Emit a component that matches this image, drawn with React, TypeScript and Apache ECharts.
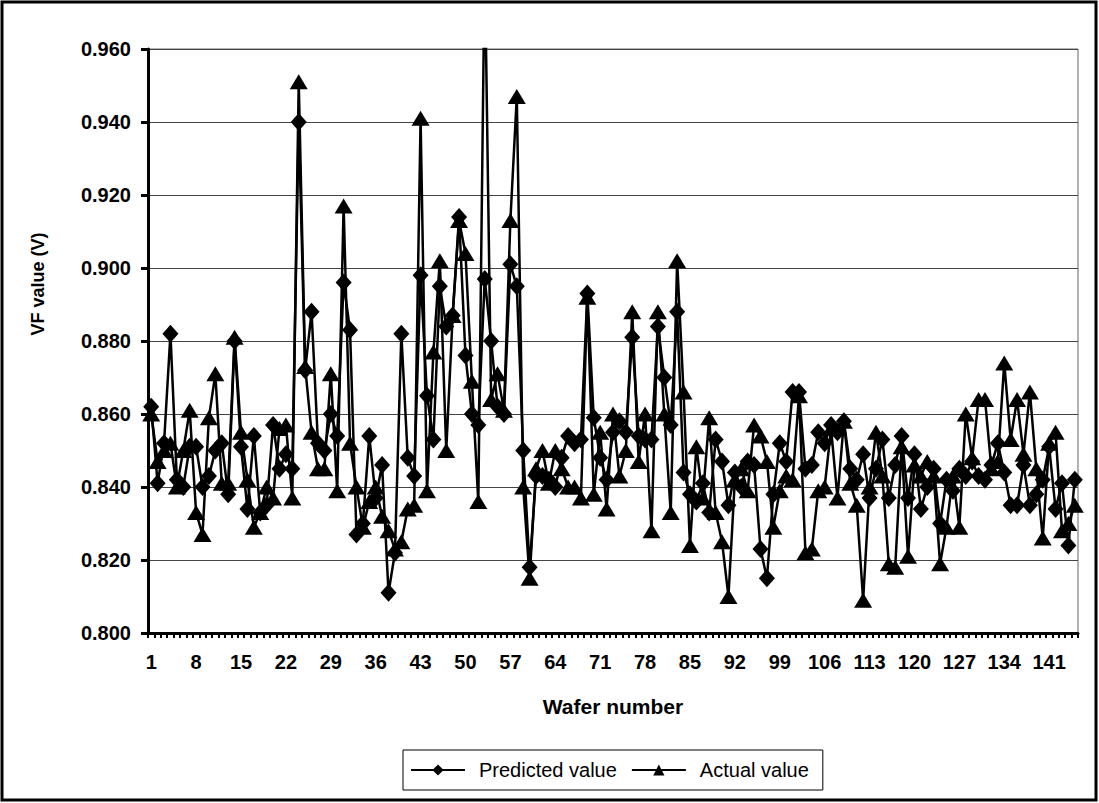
import React, { useEffect, useRef } from "react";
import * as echarts from "echarts";

// Wafer numbers 1..145
const waferNumbers: string[] = Array.from({ length: 145 }, (_, i) => String(i + 1));

// Predicted VF value per wafer (V)
const predicted: number[] = [
  0.862, 0.841, 0.852, 0.882, 0.842, 0.840, 0.851, 0.851, 0.840, 0.843,
  0.850, 0.852, 0.838, 0.880, 0.851, 0.834, 0.854, 0.833, 0.835, 0.857,
  0.845, 0.849, 0.845, 0.940, 0.872, 0.888, 0.852, 0.850, 0.860, 0.854,
  0.896, 0.883, 0.827, 0.830, 0.854, 0.837, 0.846, 0.811, 0.822, 0.882,
  0.848, 0.843, 0.898, 0.865, 0.853, 0.895, 0.884, 0.887, 0.914, 0.876,
  0.860, 0.857, 0.897, 0.880, 0.862, 0.860, 0.901, 0.895, 0.850, 0.818,
  0.843, 0.843, 0.842, 0.840, 0.848, 0.854, 0.852, 0.853, 0.893, 0.859,
  0.848, 0.842, 0.855, 0.858, 0.855, 0.881, 0.854, 0.853, 0.853, 0.884,
  0.870, 0.857, 0.888, 0.844, 0.838, 0.836, 0.841, 0.833, 0.853, 0.847,
  0.835, 0.844, 0.840, 0.847, 0.846, 0.823, 0.815, 0.838, 0.852, 0.847,
  0.866, 0.866, 0.845, 0.846, 0.855, 0.852, 0.857, 0.855, 0.858, 0.845,
  0.842, 0.849, 0.837, 0.845, 0.853, 0.837, 0.846, 0.854, 0.837, 0.849,
  0.834, 0.840, 0.845, 0.830, 0.842, 0.839, 0.845, 0.843, 0.847, 0.843,
  0.842, 0.846, 0.852, 0.844, 0.835, 0.835, 0.846, 0.835, 0.838, 0.842,
  0.851, 0.834, 0.841, 0.824, 0.842,
];

// Actual VF value per wafer (V)
const actual: number[] = [
  0.860, 0.847, 0.850, 0.852, 0.840, 0.850, 0.861, 0.833, 0.827, 0.859,
  0.871, 0.841, 0.841, 0.881, 0.855, 0.842, 0.829, 0.833, 0.840, 0.837,
  0.856, 0.857, 0.837, 0.951, 0.873, 0.855, 0.845, 0.845, 0.871, 0.839,
  0.917, 0.852, 0.840, 0.829, 0.836, 0.840, 0.832, 0.828, 0.823, 0.825,
  0.834, 0.835, 0.941, 0.839, 0.877, 0.902, 0.850, 0.887, 0.913, 0.904,
  0.869, 0.836, 0.985, 0.864, 0.871, 0.861, 0.913, 0.947, 0.840, 0.815,
  0.845, 0.850, 0.841, 0.850, 0.845, 0.840, 0.840, 0.837, 0.892, 0.838,
  0.855, 0.834, 0.860, 0.843, 0.850, 0.888, 0.847, 0.860, 0.828, 0.888,
  0.860, 0.833, 0.902, 0.866, 0.824, 0.851, 0.837, 0.859, 0.833, 0.825,
  0.810, 0.842, 0.845, 0.839, 0.857, 0.854, 0.847, 0.829, 0.839, 0.843,
  0.842, 0.865, 0.822, 0.823, 0.839, 0.840, 0.856, 0.837, 0.858, 0.841,
  0.835, 0.809, 0.840, 0.855, 0.843, 0.819, 0.818, 0.851, 0.821, 0.846,
  0.843, 0.847, 0.843, 0.819, 0.829, 0.843, 0.829, 0.860, 0.848, 0.864,
  0.864, 0.845, 0.847, 0.874, 0.853, 0.864, 0.849, 0.866, 0.845, 0.826,
  0.852, 0.855, 0.828, 0.830, 0.835,
];

const FONT = "Liberation Sans, Arial, sans-serif";

export default function App() {
  const ref = useRef<HTMLDivElement>(null);

  useEffect(() => {
    document.body.style.margin = "0";
    const chart = echarts.init(ref.current!, undefined, { renderer: "svg" });
    chart.setOption({
      animation: false,
      backgroundColor: "#ffffff",
      grid: { left: 148, right: 21, top: 49, bottom: 170, containLabel: false },
      xAxis: {
        type: "category",
        data: waferNumbers,
        boundaryGap: true,
        axisLine: { show: true, lineStyle: { color: "#000", width: 3 } },
        axisTick: {
          show: true,
          interval: 0,
          alignWithLabel: false,
          length: 5,
          lineStyle: { color: "#000", width: 2 },
        },
        axisLabel: {
          interval: 6,
          color: "#000",
          fontFamily: FONT,
          fontWeight: "bold",
          fontSize: 20,
          margin: 19,
        },
        name: "Wafer number",
        nameLocation: "middle",
        nameGap: 63,
        nameTextStyle: { color: "#000", fontFamily: FONT, fontWeight: "bold", fontSize: 21 },
        splitLine: { show: false },
      },
      yAxis: {
        type: "value",
        min: 0.8,
        max: 0.96,
        interval: 0.02,
        axisLine: { show: true, lineStyle: { color: "#000", width: 3 } },
        axisTick: { show: true, length: 7, lineStyle: { color: "#000", width: 3 } },
        axisLabel: {
          color: "#000",
          fontFamily: FONT,
          fontWeight: "bold",
          fontSize: 20,
          margin: 17,
          formatter: (v: number) => v.toFixed(3),
        },
        splitLine: { show: true, lineStyle: { color: "#444", width: 1 } },
      },
      legend: {
        show: true,
        left: 403,
        top: 750,
        itemWidth: 54,
        itemHeight: 14,
        itemGap: 14,
        padding: [10, 14, 10, 7],
        borderColor: "#000",
        borderWidth: 1,
        textStyle: { color: "#000", fontFamily: FONT, fontSize: 20, padding: [0, 0, 0, 9] },
        data: ["Predicted value", "Actual value"],
      },
      graphic: [
        {
          type: "rect",
          shape: { x: 2, y: 2, width: 1094, height: 798 },
          style: { fill: "none", stroke: "#000", lineWidth: 3 },
          silent: true,
        },
        {
          type: "line",
          shape: { x1: 148, y1: 49, x2: 1078, y2: 49 },
          style: { stroke: "#666", lineWidth: 1 },
          silent: true,
        },
        {
          type: "line",
          shape: { x1: 1078, y1: 49, x2: 1078, y2: 633 },
          style: { stroke: "#666", lineWidth: 1 },
          silent: true,
        },
        {
          type: "text",
          x: 38,
          y: 284,
          rotation: Math.PI / 2,
          style: {
            text: "VF value (V)",
            fill: "#000",
            font: `bold 18px ${FONT}`,
            textAlign: "center",
            textVerticalAlign: "middle",
          },
          silent: true,
        },
      ],
      series: [
        {
          name: "Predicted value",
          type: "line",
          data: predicted,
          symbol: "diamond",
          symbolSize: [16, 18],
          showAllSymbol: true,
          itemStyle: { color: "#000" },
          lineStyle: { color: "#000", width: 2.5 },
        },
        {
          name: "Actual value",
          type: "line",
          data: actual,
          symbol: "triangle",
          symbolSize: [18, 15],
          showAllSymbol: true,
          itemStyle: { color: "#000" },
          lineStyle: { color: "#000", width: 2.5 },
        },
      ],
    });
    return () => chart.dispose();
  }, []);

  return (
    <div
      ref={ref}
      style={{ position: "fixed", left: 0, top: 0, width: 1099, height: 803 }}
    />
  );
}
